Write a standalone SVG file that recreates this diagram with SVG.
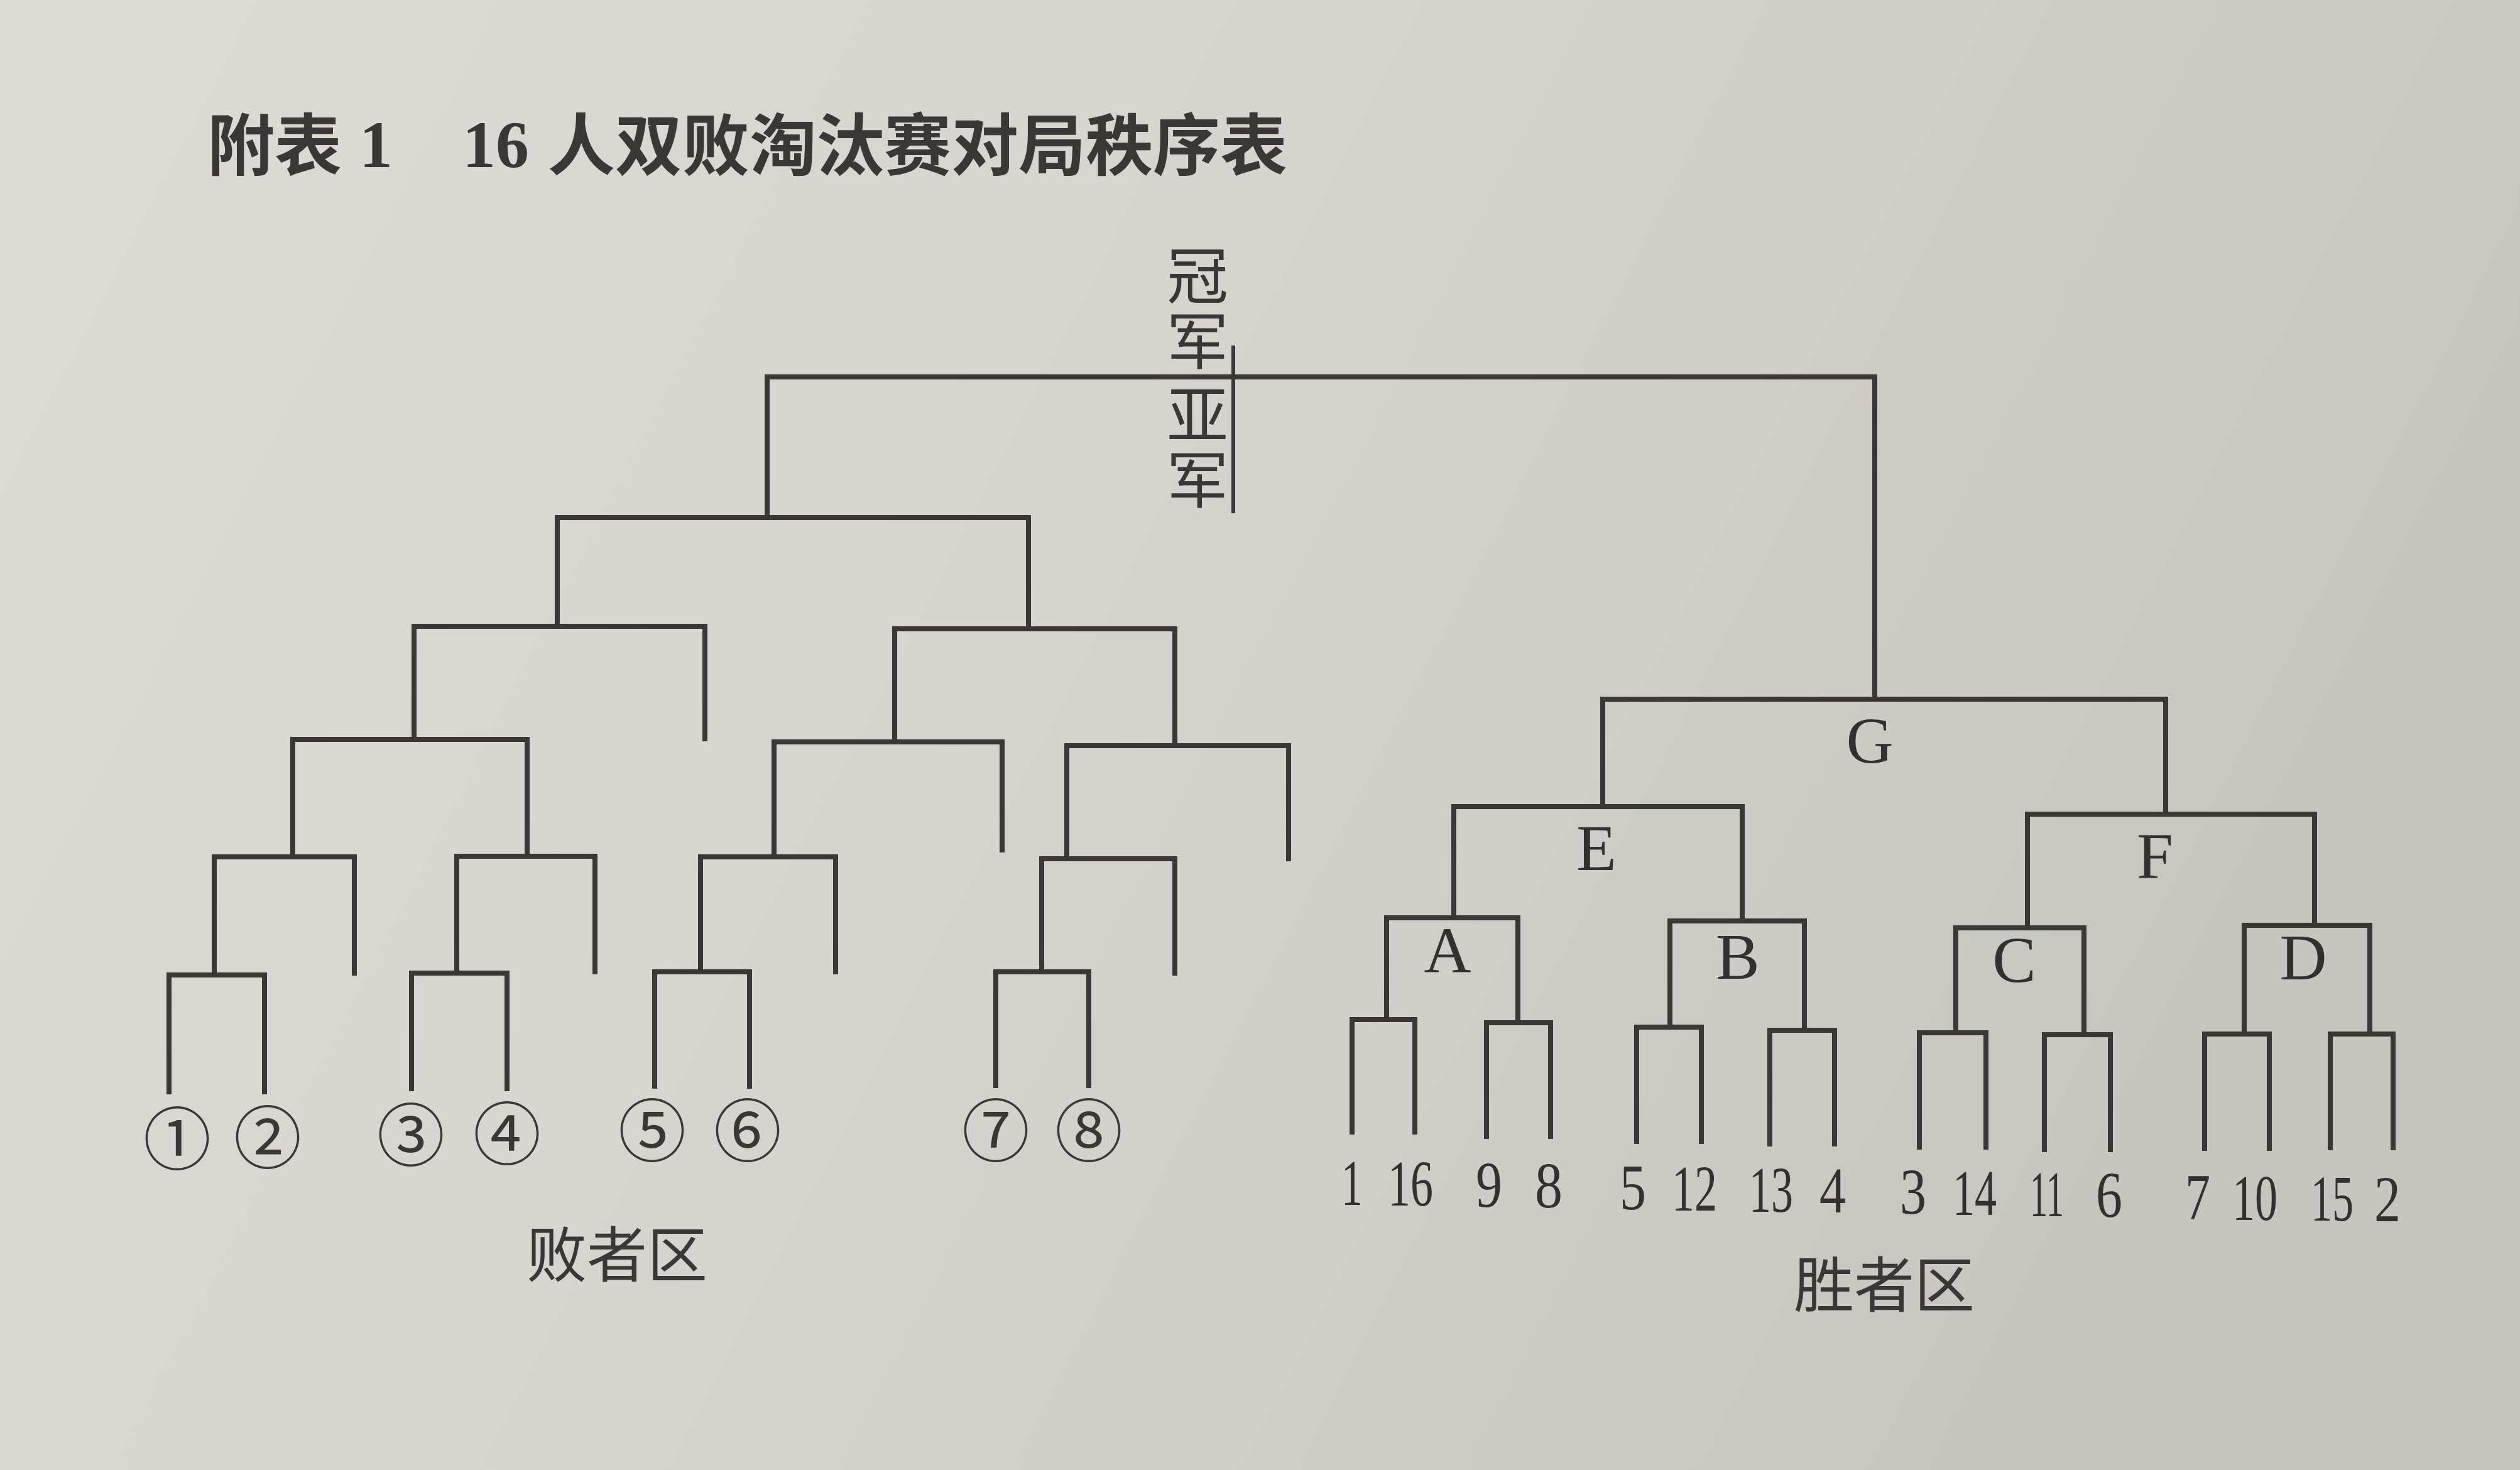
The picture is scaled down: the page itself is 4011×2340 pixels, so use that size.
<svg xmlns="http://www.w3.org/2000/svg" width="4011" height="2340" viewBox="0 0 4011 2340">
<defs>
<linearGradient id="paper" x1="0" y1="0" x2="1" y2="0.3">
<stop offset="0" stop-color="#dcdbd6"/>
<stop offset="0.5" stop-color="#d5d4cf"/>
<stop offset="1" stop-color="#c6c5c0"/>
</linearGradient>
<style>
.ln{fill:none;stroke:#3a3735;stroke-width:8;stroke-linecap:square;stroke-linejoin:miter}
.thin{fill:none;stroke:#3a3735;stroke-width:6}
.title{font-family:"Noto Sans CJK SC","Noto Sans CJK JP",sans-serif;font-weight:bold;font-size:107px;fill:#3a3836}
.tnum{font-family:"Liberation Serif",serif;font-weight:bold;font-size:106px;fill:#3a3836}
.cj{font-family:"Noto Sans CJK SC","Noto Sans CJK JP",sans-serif;font-size:98px;fill:#3a3836}
.vt{font-family:"Noto Sans CJK SC","Noto Sans CJK JP",sans-serif;font-size:98px;fill:#3a3836;writing-mode:vertical-rl;letter-spacing:6px}
.lab{font-family:"Liberation Serif",serif;font-size:104px;fill:#333130;text-anchor:middle}
.num{font-family:"Liberation Serif",serif;font-size:104px;fill:#333130;text-anchor:middle}
.circ{font-family:"Noto Sans CJK SC","Noto Sans CJK JP",sans-serif;font-size:108px;fill:#3a3735;text-anchor:middle}
</style>
</defs>
<rect x="0" y="0" width="4011" height="2340" fill="url(#paper)"/>

<g id="title">
<text class="title" y="270"><tspan x="330">附表</tspan></text>
<text class="tnum" x="572" y="266">1</text>
<text class="tnum" x="736" y="266">16</text>
<text class="title" x="872" y="270">人双败淘汰赛对局秩序表</text>
</g>

<g id="champion">
<text class="vt" x="1906" y="389">冠军</text>
<text class="vt" x="1906" y="610">亚军</text>
<line class="thin" x1="1963" y1="550" x2="1963" y2="817"/>
</g>

<g id="connectors">
<path class="ln" d="M1221,824 V600 H2984 V1113"/>
<path class="ln" d="M887,997 V824 H1637 V1001"/>
<path class="ln" d="M659,1176 V997 H1122 V1176"/>
<path class="ln" d="M1424,1179 V1001 H1870 V1187"/>
<path class="ln" d="M466,1364 V1177 H839 V1363"/>
<path class="ln" d="M1232,1363 V1181 H1595 V1353"/>
<path class="ln" d="M1698,1367 V1187 H2051 V1367"/>
<path class="ln" d="M341,1552 V1364 H564 V1549"/>
<path class="ln" d="M727,1549 V1363 H947 V1547"/>
<path class="ln" d="M1115,1547 V1364 H1330 V1547"/>
<path class="ln" d="M1658,1547 V1367 H1870 V1549"/>
<path class="ln" d="M269,1738 V1552 H421 V1738"/>
<path class="ln" d="M655,1733 V1549 H807 V1733"/>
<path class="ln" d="M1042,1729 V1547 H1193 V1729"/>
<path class="ln" d="M1585,1728 V1547 H1733 V1728"/>
<path class="ln" d="M2551,1284 V1113 H3447 V1296"/>
<path class="ln" d="M2314,1461 V1284 H2773 V1466"/>
<path class="ln" d="M3227,1477 V1296 H3684 V1473"/>
<path class="ln" d="M2207,1623 V1461 H2416 V1628"/>
<path class="ln" d="M2658,1635 V1466 H2872 V1640"/>
<path class="ln" d="M3113,1644 V1477 H3317 V1647"/>
<path class="ln" d="M3572,1646 V1473 H3772 V1646"/>
<path class="ln" d="M2152,1802 V1623 H2252 V1802"/>
<path class="ln" d="M2366,1809 V1628 H2468 V1809"/>
<path class="ln" d="M2605,1817 V1635 H2708 V1817"/>
<path class="ln" d="M2817,1821 V1640 H2920 V1821"/>
<path class="ln" d="M3055,1826 V1644 H3161 V1826"/>
<path class="ln" d="M3254,1830 V1647 H3359 V1830"/>
<path class="ln" d="M3509,1828 V1646 H3612 V1828"/>
<path class="ln" d="M3709,1827 V1646 H3809 V1827"/>
</g>

<g id="match-labels">
<text class="lab" x="2976" y="1214">G</text>
<text class="lab" x="2541" y="1385">E</text>
<text class="lab" x="3430" y="1397">F</text>
<text class="lab" x="2304" y="1548">A</text>
<text class="lab" x="2766" y="1558">B</text>
<text class="lab" x="3206" y="1563">C</text>
<text class="lab" x="3666" y="1559">D</text>
</g>

<g id="losers-seeds">
<text class="circ" x="282" y="1853">①</text>
<text class="circ" x="426" y="1851">②</text>
<text class="circ" x="654" y="1847">③</text>
<text class="circ" x="807" y="1845">④</text>
<text class="circ" x="1038" y="1840">⑤</text>
<text class="circ" x="1190" y="1840">⑥</text>
<text class="circ" x="1585" y="1840">⑦</text>
<text class="circ" x="1733" y="1840">⑧</text>
</g>

<g id="winners-seeds">
<text class="num" x="2152" y="1918" textLength="34" lengthAdjust="spacingAndGlyphs">1</text>
<text class="num" x="2245" y="1919" textLength="72" lengthAdjust="spacingAndGlyphs">16</text>
<text class="num" x="2370" y="1921" textLength="42" lengthAdjust="spacingAndGlyphs">9</text>
<text class="num" x="2465" y="1922" textLength="44" lengthAdjust="spacingAndGlyphs">8</text>
<text class="num" x="2599" y="1925" textLength="42" lengthAdjust="spacingAndGlyphs">5</text>
<text class="num" x="2697" y="1927" textLength="72" lengthAdjust="spacingAndGlyphs">12</text>
<text class="num" x="2819" y="1929" textLength="70" lengthAdjust="spacingAndGlyphs">13</text>
<text class="num" x="2917" y="1930" textLength="42" lengthAdjust="spacingAndGlyphs">4</text>
<text class="num" x="3045" y="1932" textLength="42" lengthAdjust="spacingAndGlyphs">3</text>
<text class="num" x="3143" y="1934" textLength="70" lengthAdjust="spacingAndGlyphs">14</text>
<text class="num" x="3258" y="1936" textLength="54" lengthAdjust="spacingAndGlyphs">11</text>
<text class="num" x="3357" y="1937" textLength="42" lengthAdjust="spacingAndGlyphs">6</text>
<text class="num" x="3498" y="1940" textLength="40" lengthAdjust="spacingAndGlyphs">7</text>
<text class="num" x="3589" y="1942" textLength="72" lengthAdjust="spacingAndGlyphs">10</text>
<text class="num" x="3712" y="1943" textLength="68" lengthAdjust="spacingAndGlyphs">15</text>
<text class="num" x="3800" y="1944" textLength="42" lengthAdjust="spacingAndGlyphs">2</text>
</g>

<g id="zone-labels">
<text class="cj" x="982" y="2032" text-anchor="middle" style="font-size:96px">败者区</text>
<text class="cj" x="2999" y="2080" text-anchor="middle" style="font-size:96px">胜者区</text>
</g>
</svg>
